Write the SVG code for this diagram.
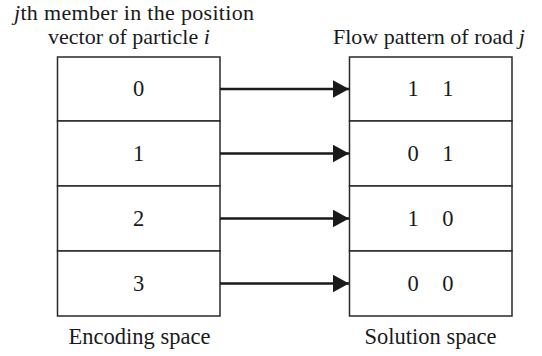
<svg xmlns="http://www.w3.org/2000/svg" width="542" height="356" viewBox="0 0 542 356">
  <style>
    text { font-family: "Liberation Serif", "Times New Roman", serif; font-size: 22.5px; fill: #1a1a1a; }
    .t { font-size: 22px; }
    .c { text-anchor: middle; }
    .cell { fill: #ffffff; stroke: #2a2a2a; stroke-width: 1.5; }
    .conn { stroke: #1a1a1a; stroke-width: 2.6; fill: none; }
    .it { font-style: italic; }
  </style>
  <defs>
    <marker id="ah" markerUnits="userSpaceOnUse" markerWidth="17" markerHeight="18" refX="16" refY="8.75" orient="auto">
      <polygon points="0,0 16,8.75 0,17.5" fill="#1a1a1a"/>
    </marker>
  </defs>
  <rect width="542" height="356" fill="#ffffff"/>

  <g id="encoding-title">
    <text class="t" x="14" y="19.5" textLength="240" lengthAdjust="spacing"><tspan class="it">j</tspan>th member in the position</text>
    <text class="t" x="48" y="44">vector of particle <tspan class="it">i</tspan></text>
  </g>
  <g id="solution-title">
    <text class="t" x="333" y="44">Flow pattern of road <tspan class="it">j</tspan></text>
  </g>

  <g id="enc-0"><rect class="cell" x="57.5" y="57" width="162.5" height="64"/><text class="c" x="138.5" y="96">0</text></g>
  <g id="enc-1"><rect class="cell" x="57.5" y="121" width="162.5" height="65"/><text class="c" x="138.5" y="161">1</text></g>
  <g id="enc-2"><rect class="cell" x="57.5" y="186" width="162.5" height="65"/><text class="c" x="138.5" y="226">2</text></g>
  <g id="enc-3"><rect class="cell" x="57.5" y="251" width="162.5" height="65"/><text class="c" x="138.5" y="291">3</text></g>

  <g id="sol-0"><rect class="cell" x="349.5" y="57" width="162.5" height="64"/><text x="407.5" y="96">1<tspan x="442.2">1</tspan></text></g>
  <g id="sol-1"><rect class="cell" x="349.5" y="121" width="162.5" height="65"/><text x="407.5" y="161">0<tspan x="442.2">1</tspan></text></g>
  <g id="sol-2"><rect class="cell" x="349.5" y="186" width="162.5" height="65"/><text x="407.5" y="226">1<tspan x="442.2">0</tspan></text></g>
  <g id="sol-3"><rect class="cell" x="349.5" y="251" width="162.5" height="65"/><text x="407.5" y="291">0<tspan x="442.2">0</tspan></text></g>

  <g id="connectors">
    <line class="conn" x1="220" y1="89" x2="349" y2="89" marker-end="url(#ah)"/>
    <line class="conn" x1="220" y1="153.5" x2="349" y2="153.5" marker-end="url(#ah)"/>
    <line class="conn" x1="220" y1="218.5" x2="349" y2="218.5" marker-end="url(#ah)"/>
    <line class="conn" x1="220" y1="283.5" x2="349" y2="283.5" marker-end="url(#ah)"/>
  </g>

  <g id="encoding-label"><text class="c" x="139.5" y="344">Encoding space</text></g>
  <g id="solution-label"><text class="c" x="430.5" y="344">Solution space</text></g>
</svg>
